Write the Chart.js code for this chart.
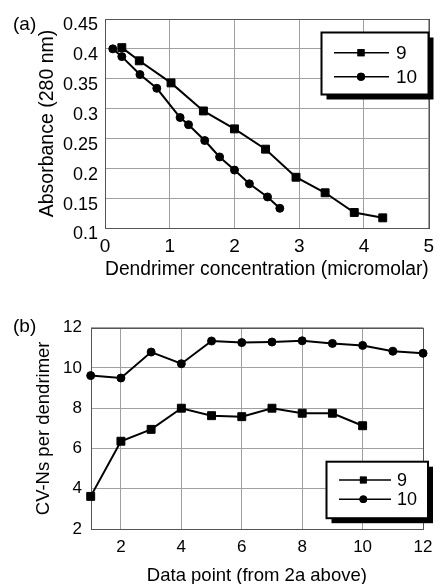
<!DOCTYPE html>
<html>
<head>
<meta charset="utf-8">
<script src="https://cdn.jsdelivr.net/npm/chart.js@4/dist/chart.umd.min.js"></script>
<style>
  html, body { margin: 0; padding: 0; background: #fff; overflow: hidden; width: 441px; height: 584px; }
  canvas { position: absolute; left: 0; }
  #ca { top: 0; }
  #cb { top: 290px; }
  .tag { position: absolute; font-family: "Liberation Sans", Arial, sans-serif; font-size: 19px; color: #000; line-height: 1; }
</style>
</head>
<body>
<canvas id="ca" width="441" height="290"></canvas>
<canvas id="cb" width="441" height="300"></canvas>
<div class="tag" style="left:13px; top:14px;">(a)</div>
<div class="tag" style="left:13px; top:316px;">(b)</div>
<script>
// ---------- data ----------
const seriesNames = ['9', '10'];

// (a) absorbance vs dendrimer concentration
const conc9 = [0.26, 0.53, 1.02, 1.52, 2.0, 2.48, 2.95, 3.4, 3.85, 4.29];
const abs9  = [0.402, 0.380, 0.343, 0.296, 0.266, 0.232, 0.185, 0.159, 0.126, 0.117];
const conc10 = [0.12, 0.26, 0.54, 0.8, 1.16, 1.29, 1.54, 1.77, 2.0, 2.23, 2.51, 2.7];
const abs10  = [0.400, 0.387, 0.357, 0.334, 0.285, 0.273, 0.2465, 0.219, 0.197, 0.174, 0.152, 0.133];

// (b) CV-Ns per dendrimer vs data point
const pts9  = [1, 2, 3, 4, 5, 6, 7, 8, 9, 10];
const cvn9  = [3.62, 6.36, 6.95, 8.0, 7.63, 7.58, 8.0, 7.75, 7.75, 7.13];
const pts10 = [1, 2, 3, 4, 5, 6, 7, 8, 9, 10, 11, 12];
const cvn10 = [9.62, 9.50, 10.79, 10.21, 11.34, 11.26, 11.29, 11.35, 11.22, 11.12, 10.83, 10.73];

// tick labels
const xTicksA = [0, 1, 2, 3, 4, 5];
const yTicksA = [0.1, 0.15, 0.2, 0.25, 0.3, 0.35, 0.4, 0.45];
const xTicksB = [2, 4, 6, 8, 10, 12];
const yTicksB = [2, 4, 6, 8, 10, 12];

// ---------- helpers ----------
const FONT = '"Liberation Sans", Arial, sans-serif';
const GRID = '#a0a0a0';

function pairs(xs, ys) { return xs.map((x, i) => ({ x: x, y: ys[i] })); }
function fixedTicks(arr) { return function (scale) { scale.ticks = arr.map(v => ({ value: v })); }; }
function f(size) { return { family: FONT, size: size }; }

const frame = {
  id: 'frame',
  beforeDatasetsDraw(chart) {
    const a = chart.chartArea, ctx = chart.ctx;
    ctx.save();
    ctx.strokeStyle = '#555';
    ctx.lineWidth = 1;
    ctx.strokeRect(Math.round(a.left) + 0.5, Math.round(a.top) + 0.5, Math.round(a.right - a.left), Math.round(a.bottom - a.top));
    ctx.restore();
  }
};

const boxLegend = {
  id: 'boxLegend',
  afterDatasetsDraw(chart, args, o) {
    const ctx = chart.ctx;
    ctx.save();
    ctx.fillStyle = '#000';
    ctx.fillRect(o.x + o.sh, o.y + o.sh, o.w, o.h);
    ctx.fillStyle = '#fff';
    ctx.fillRect(o.x, o.y, o.w, o.h);
    ctx.strokeStyle = '#000';
    ctx.lineWidth = 2;
    ctx.strokeRect(o.x, o.y, o.w, o.h);
    chart.data.datasets.forEach((ds, i) => {
      const yy = o.rows[i];
      ctx.strokeStyle = '#000';
      ctx.lineWidth = 1.5;
      ctx.beginPath();
      ctx.moveTo(o.x0, yy);
      ctx.lineTo(o.x1, yy);
      ctx.stroke();
      ctx.fillStyle = '#000';
      Chart.helpers.drawPoint(ctx, { pointStyle: ds.pointStyle, radius: o.r[i], borderWidth: 0, rotation: 0 }, o.mx, yy);
      ctx.fill();
      ctx.fillStyle = '#000';
      ctx.font = o.font + 'px ' + FONT;
      ctx.textBaseline = 'middle';
      ctx.textAlign = 'left';
      ctx.fillText(ds.label, o.tx, yy + 1);
    });
    ctx.restore();
  }
};

function ds(label, data, style, radius) {
  return {
    label: label, data: data, showLine: true,
    borderColor: '#000', backgroundColor: '#000', borderWidth: 2,
    pointStyle: style, pointRadius: radius, pointBorderWidth: 1,
    pointBackgroundColor: '#000', pointBorderColor: '#000',
    tension: 0, clip: false
  };
}

// ---------- chart (a) ----------
new Chart(document.getElementById('ca'), {
  type: 'scatter',
  data: {
    datasets: [
      ds(seriesNames[0], pairs(conc9, abs9), 'rect', 5.6),
      ds(seriesNames[1], pairs(conc10, abs10), 'circle', 4)
    ]
  },
  options: {
    responsive: false, animation: false,
    layout: { padding: { top: 19, right: 7, left: 0, bottom: 8.3 } },
    plugins: {
      legend: { display: false }, tooltip: { enabled: false },
      boxLegend: { x: 321.5, y: 32.5, w: 107, h: 62, sh: 5, rows: [52.7, 76.7], x0: 334, x1: 389, mx: 361, tx: 396, font: 19, r: [5, 4] }
    },
    scales: {
      x: {
        type: 'linear', min: 0, max: 5,
        afterBuildTicks: fixedTicks(xTicksA),
        afterFit: s => { s.height = 53.7; },
        grid: { color: GRID, drawTicks: false },
        border: { display: false },
        ticks: { color: '#000', font: f(19), padding: 7, maxRotation: 0 },
        title: { display: true, text: 'Dendrimer concentration (micromolar)', color: '#000', font: f(19.5), padding: 0 }
      },
      y: {
        type: 'linear', min: 0.1, max: 0.45,
        afterBuildTicks: fixedTicks(yTicksA),
        afterFit: s => { s.width = 105; },
        grid: { color: GRID, drawTicks: false },
        border: { display: false },
        ticks: { color: '#000', font: f(18), padding: 7, labelOffset: 6.5, callback: v => String(v) },
        title: { display: true, text: 'Absorbance (280 nm)', color: '#000', font: f(19.5), padding: { top: 36.3, bottom: 0 } }
      }
    }
  },
  plugins: [frame, boxLegend]
});

// ---------- chart (b) ----------
new Chart(document.getElementById('cb'), {
  type: 'scatter',
  data: {
    datasets: [
      ds(seriesNames[0], pairs(pts9, cvn9), 'rect', 5.6),
      ds(seriesNames[1], pairs(pts10, cvn10), 'circle', 4)
    ]
  },
  options: {
    responsive: false, animation: false,
    layout: { padding: { top: 37.7, right: 9.3, left: 0, bottom: 2.6 } },
    plugins: {
      legend: { display: false }, tooltip: { enabled: false },
      boxLegend: { x: 326.5, y: 171.7, w: 101.5, h: 56.5, sh: 5, rows: [190, 209.3], x0: 339, x1: 391, mx: 363.3, tx: 397, font: 18, r: [4.8, 3.8] }
    },
    scales: {
      x: {
        type: 'linear', min: 1, max: 12,
        afterBuildTicks: fixedTicks(xTicksB),
        afterFit: s => { s.height = 58.4; },
        grid: { color: GRID, drawTicks: false },
        border: { display: false },
        ticks: { color: '#000', font: f(17), padding: 8.5, maxRotation: 0 },
        title: { display: true, text: 'Data point (from 2a above)', color: '#000', font: f(18.5), padding: 0 }
      },
      y: {
        type: 'linear', min: 2, max: 12,
        afterBuildTicks: fixedTicks(yTicksB),
        afterFit: s => { s.width = 90.7; },
        grid: { color: GRID, drawTicks: false },
        border: { display: false },
        ticks: { color: '#000', font: f(17), padding: 8.7 },
        title: { display: true, text: 'CV-Ns per dendrimer', color: '#000', font: f(18.5), padding: { top: 32.9, bottom: 0 } }
      }
    }
  },
  plugins: [frame, boxLegend]
});
</script>
</body>
</html>
